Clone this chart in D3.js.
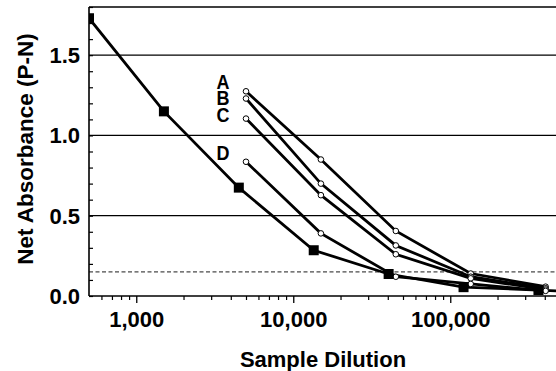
<!DOCTYPE html>
<html><head><meta charset="utf-8">
<script src="https://cdn.jsdelivr.net/npm/d3@7"></script>
<style>body{margin:0;background:#fff}text{font-family:"Liberation Sans",Arial,sans-serif;font-weight:bold}</style>
</head><body><svg id="c" width="556" height="371"></svg>
<script>
// Data
const controlDilutions = [500, 1500, 4500, 13500, 40500, 121500, 364500, 1093500];
const controlValues    = [1.73, 1.15, 0.675, 0.285, 0.137, 0.055, 0.037, 0.015];
const sampleDilutions  = [5000, 15000, 45000, 135000, 405000];
const seriesA = [1.275, 0.85, 0.405, 0.14, 0.058];
const seriesB = [1.23, 0.70, 0.315, 0.12, 0.048];
const seriesC = [1.105, 0.628, 0.26, 0.11, 0.04];
const seriesD = [0.836, 0.39, 0.12, 0.075, 0.032];
const seriesNames = ["A", "B", "C", "D"];
const cutoff = 0.15;
const yTicks = [0.0, 0.5, 1.0, 1.5];
const xTicks = [1000, 10000, 100000];
const xTickLabels = ["1,000", "10,000", "100,000"];

const svg = d3.select("#c");
const L = 89, T = 7, B = 296, R = 560, W = 556;
const x = d3.scaleLog().domain([500, 500000]).range([L, R]);
const y = d3.scaleLinear().domain([0, 1.8]).range([B, T]);

svg.append("defs").append("clipPath").attr("id","clip")
  .append("rect").attr("x", L).attr("y", T - 10).attr("width", W - L).attr("height", B - T + 10);

// gridlines
svg.selectAll("line.grid").data(yTicks.filter(d => d > 0)).enter().append("line")
  .attr("x1", L).attr("x2", W).attr("y1", d => y(d)).attr("y2", d => y(d))
  .attr("stroke", "#000").attr("stroke-width", 1.3);
// top border
svg.append("line").attr("x1", L).attr("x2", W).attr("y1", y(1.8)).attr("y2", y(1.8))
  .attr("stroke", "#000").attr("stroke-width", 1.6);
// cutoff dashed
svg.append("line").attr("x1", L).attr("x2", W).attr("y1", y(cutoff)).attr("y2", y(cutoff))
  .attr("stroke", "#000").attr("stroke-width", 0.9).attr("stroke-dasharray", "4,2.5");

// Y axis
const yMinor = d3.range(0, 19).map(i => i / 10);
const yAxis = d3.axisRight(y).tickValues(yMinor).tickSize(4).tickFormat("");
const gy = svg.append("g").attr("transform", `translate(${L},0)`).call(yAxis);
gy.select(".domain").attr("stroke-width", 1.6).attr("d", `M0,${T}V${B}`);
gy.selectAll(".tick line").attr("stroke-width", 1.2);
svg.selectAll("text.ylab").data(yTicks).enter().append("text")
  .attr("x", 80).attr("y", d => y(d) + 8).attr("text-anchor", "end")
  .attr("font-size", 22).text(d => d.toFixed(1));

// X axis
const xMinor = [];
[100, 1000, 10000, 100000].forEach(b => { for (let k = 2; k <= 9; k++) { const v = b * k; if (v > 500 && v < 500000 && !xTicks.includes(v)) xMinor.push(v); } });
const gxm = svg.append("g").attr("transform", `translate(0,${B})`)
  .call(d3.axisBottom(x).tickValues(xMinor).tickSize(4).tickFormat(""));
gxm.select(".domain").remove();
gxm.selectAll(".tick line").attr("stroke-width", 1.2);
const gx = svg.append("g").attr("transform", `translate(0,${B})`)
  .call(d3.axisBottom(x).tickValues(xTicks).tickSize(7).tickFormat((d, i) => xTickLabels[i]));
gx.select(".domain").attr("stroke-width", 1.6).attr("d", `M${L},0H${W}`);
gx.selectAll(".tick line").attr("stroke-width", 1.3);
gx.selectAll(".tick text").attr("font-size", 22).attr("fill", "#000").attr("y", 15)
  .attr("dy", "0.71em").style("font-family", '"Liberation Sans",Arial,sans-serif').style("font-weight", "bold");

// titles
svg.append("text").attr("x", 323).attr("y", 367).attr("text-anchor", "middle")
  .attr("font-size", 22).text("Sample Dilution");
svg.append("text").attr("transform", "translate(33,149) rotate(-90)").attr("text-anchor", "middle")
  .attr("font-size", 22.5).text("Net Absorbance (P-N)");

// lines
const plot = svg.append("g").attr("clip-path", "url(#clip)");
const line = d3.line().x(d => x(d[0])).y(d => y(d[1]));
const samples = [seriesA, seriesB, seriesC, seriesD];
samples.forEach(s => {
  plot.append("path").datum(sampleDilutions.map((d, i) => [d, s[i]]))
    .attr("d", line).attr("fill", "none").attr("stroke", "#000").attr("stroke-width", 2.8);
});
const ctrl = controlDilutions.map((d, i) => [d, controlValues[i]]);
plot.append("path").datum(ctrl).attr("d", line).attr("fill", "none")
  .attr("stroke", "#000").attr("stroke-width", 2.8);
samples.forEach(s => {
  plot.selectAll(null).data(sampleDilutions.map((d, i) => [d, s[i]])).enter().append("circle")
    .attr("cx", d => x(d[0])).attr("cy", d => y(d[1])).attr("r", 2.8)
    .attr("fill", "#fff").attr("stroke", "#000").attr("stroke-width", 1);
});
plot.selectAll("rect.sq").data(ctrl).enter().append("rect")
  .attr("x", d => x(d[0]) - 5).attr("y", d => y(d[1]) - 5).attr("width", 10).attr("height", 10)
  .attr("fill", "#000");

// series labels
const labelY = [89.5, 105.5, 122.5, 160];
svg.selectAll("text.sl").data(seriesNames).enter().append("text")
  .attr("x", 223).attr("y", (d, i) => labelY[i]).attr("text-anchor", "middle")
  .attr("font-size", 18).attr("transform", (d, i) => `translate(0,${labelY[i]}) scale(1,1.15) translate(0,${-labelY[i]})`)
  .text(d => d);
</script></body></html>
